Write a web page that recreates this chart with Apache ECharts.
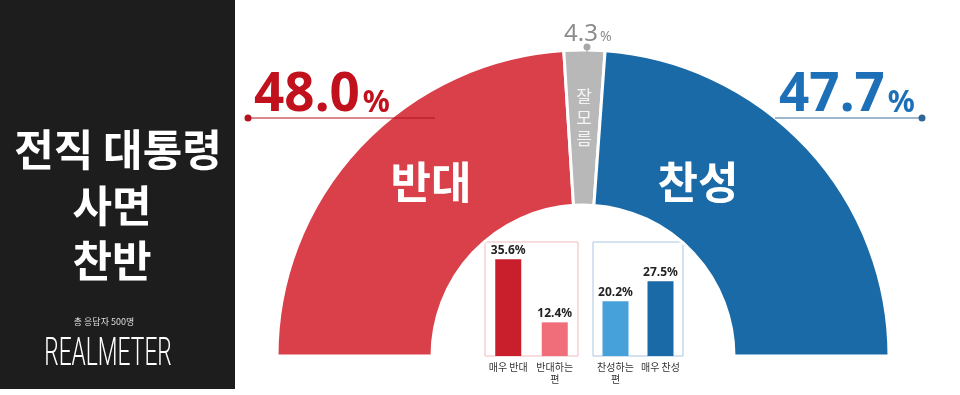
<!DOCTYPE html>
<html><head><meta charset="utf-8">
<script src="https://cdn.jsdelivr.net/npm/echarts@6/dist/echarts.min.js"></script>
<style>html,body{margin:0;padding:0;background:#fff}#c{width:960px;height:395px}</style>
</head><body><div id="c"></div>
<script>
const donutNames = ['반대', '잘모름', '찬성'];
const donutValues = [48.0, 4.3, 47.7];
const donutColors = ['#d9404a', '#b8b8b8', '#1b6aa8'];
const oppCats = ['매우 반대', '반대하는\n편'];
const oppValues = [35.6, 12.4];
const supCats = ['찬성하는\n편', '매우 찬성'];
const supValues = [20.2, 27.5];
const titleLines = ['전직 대통령', '사면', '찬반'];
const sampleNote = '총 응답자 500명';
const brand = 'REALMETER';

const KR = '"Noto Sans CJK KR", "Noto Sans", sans-serif';
const NUM = '"Noto Sans", "DejaVu Sans", sans-serif';

const chart = echarts.init(document.getElementById('c'), null, {renderer: 'canvas'});

function pctText(v, x, y, color, align, numSize, pctSize) {
  return {
    type: 'text', z: 120, x: x, y: y,
    style: {
      text: '{n|' + v.toFixed(1) + '}{p|%}',
      align: align, verticalAlign: 'bottom',
      rich: {
        n: {fontFamily: NUM, fontWeight: 'bold', fontSize: numSize, fill: color, color: color, verticalAlign: 'bottom', lineHeight: numSize * 1.1},
        p: {fontFamily: NUM, fontWeight: 'bold', fontSize: pctSize, fill: color, color: color, verticalAlign: 'bottom', lineHeight: pctSize * 1.1, padding: [0, 0, numSize * 0.06, 3]}
      }
    }
  };
}

function titleText(s, x, y) {
  return {type: 'text', z: 110, x: x, y: y, style: {
    text: s, align: 'center', verticalAlign: 'middle',
    fontFamily: KR, fontWeight: 'bold', fontSize: 43, fill: '#ffffff'}};
}

const option = {
  backgroundColor: '#ffffff',
  animation: false,
  grid: [
    {left: 485, top: 242, width: 93, height: 114, show: true, borderColor: '#f2b9bd', borderWidth: 1, backgroundColor: 'transparent'},
    {left: 593, top: 242, width: 90, height: 114, show: true, borderColor: '#a9c6df', borderWidth: 1, backgroundColor: 'transparent'}
  ],
  xAxis: [
    {type: 'category', gridIndex: 0, data: oppCats, axisLine: {show: false}, axisTick: {show: false},
     axisLabel: {interval: 0, fontSize: 10, color: '#333', fontFamily: KR, lineHeight: 12, margin: 5}},
    {type: 'category', gridIndex: 1, data: supCats, axisLine: {show: false}, axisTick: {show: false},
     axisLabel: {interval: 0, fontSize: 10, color: '#333', fontFamily: KR, lineHeight: 12, margin: 5}}
  ],
  yAxis: [
    {type: 'value', gridIndex: 0, min: 0, max: 42, show: false, splitLine: {show: false}},
    {type: 'value', gridIndex: 1, min: 0, max: 42, show: false, splitLine: {show: false}}
  ],
  series: [
    {
      type: 'pie', silent: true,
      center: [583, 356], radius: [151, 306],
      startAngle: 180, endAngle: 0, clockwise: true,
      label: {show: false}, labelLine: {show: false},
      itemStyle: {borderColor: '#ffffff', borderWidth: 3},
      data: donutNames.map((n, i) => ({name: n, value: donutValues[i], itemStyle: {color: donutColors[i]}}))
    },
    {
      type: 'bar', xAxisIndex: 0, yAxisIndex: 0, barWidth: 26, silent: true,
      data: oppValues.map((v, i) => ({value: v, itemStyle: {color: ['#c91f2c', '#ef6e79'][i]}})),
      label: {show: true, position: 'top', distance: 3, formatter: p => p.value.toFixed(1) + '%',
              fontFamily: NUM, fontWeight: 'bold', fontSize: 12, color: '#222'}
    },
    {
      type: 'bar', xAxisIndex: 1, yAxisIndex: 1, barWidth: 26, silent: true,
      data: supValues.map((v, i) => ({value: v, itemStyle: {color: ['#46a0da', '#1b6aa8'][i]}})),
      label: {show: true, position: 'top', distance: 3, formatter: p => p.value.toFixed(1) + '%',
              fontFamily: NUM, fontWeight: 'bold', fontSize: 12, color: '#222'}
    }
  ],
  graphic: [
    {type: 'rect', z: 1, shape: {x: 0, y: 0, width: 235, height: 389}, style: {fill: '#1d1d1d'}},
    titleText(titleLines[0], 118, 150),
    titleText(titleLines[1], 112, 206),
    titleText(titleLines[2], 112, 261),
    {type: 'text', z: 110, x: 104, y: 322, style: {
      text: sampleNote, align: 'center', verticalAlign: 'middle',
      fontFamily: KR, fontSize: 9, fill: '#dddddd'}},
    {type: 'text', z: 110, x: 108, y: 355, scaleX: 0.6, style: {
      text: brand, align: 'center', verticalAlign: 'middle',
      fontFamily: 'Roboto, "DejaVu Sans", sans-serif', fontWeight: 300, fontSize: 38, fill: '#ffffff'}},

    // opposition callout
    {type: 'line', z: 115, shape: {x1: 248, y1: 118, x2: 435, y2: 118}, style: {stroke: '#b5121f', lineWidth: 1}},
    {type: 'circle', z: 116, shape: {cx: 248, cy: 118, r: 3.5}, style: {fill: '#b5121f'}},
    pctText(donutValues[0], 254, 122, '#c0111d', 'left', 53, 30),

    // support callout
    {type: 'line', z: 115, shape: {x1: 775, y1: 118, x2: 922, y2: 118}, style: {stroke: '#3a6f9e', lineWidth: 1}},
    {type: 'circle', z: 116, shape: {cx: 922, cy: 118, r: 3.5}, style: {fill: '#2f6699'}},
    pctText(donutValues[2], 779, 122, '#1d70b8', 'left', 53, 30),

    // unsure callout
    {type: 'line', z: 115, shape: {x1: 587, y1: 47, x2: 587, y2: 53}, style: {stroke: '#a8a8a8', lineWidth: 1}},
    {type: 'circle', z: 116, shape: {cx: 587, cy: 47, r: 3.5}, style: {fill: '#a8a8a8'}},
    {type: 'text', z: 120, x: 564, y: 46, style: {
      text: '{n|' + donutValues[1].toFixed(1) + '}{p|%}', align: 'left', verticalAlign: 'bottom',
      rich: {
        n: {fontFamily: NUM, fontSize: 24, fill: '#8c8c8c', verticalAlign: 'bottom', lineHeight: 26},
        p: {fontFamily: NUM, fontSize: 14, fill: '#8c8c8c', verticalAlign: 'bottom', lineHeight: 16, padding: [0, 0, 2, 2]}
      }}},

    // names inside arcs
    {type: 'text', z: 120, x: 431, y: 182, style: {
      text: donutNames[0], align: 'center', verticalAlign: 'middle',
      fontFamily: KR, fontWeight: 'bold', fontSize: 44, fill: '#ffffff'}},
    {type: 'text', z: 120, x: 698, y: 182, style: {
      text: donutNames[2], align: 'center', verticalAlign: 'middle',
      fontFamily: KR, fontWeight: 'bold', fontSize: 44, fill: '#ffffff'}},
    {type: 'text', z: 120, x: 584, y: 118, style: {
      text: donutNames[1].split('').join('\n'), align: 'center', verticalAlign: 'middle',
      fontFamily: KR, fontSize: 17, lineHeight: 21, fill: '#f4f4f4'}}
  ]
};
chart.setOption(option);
</script>
</body></html>
